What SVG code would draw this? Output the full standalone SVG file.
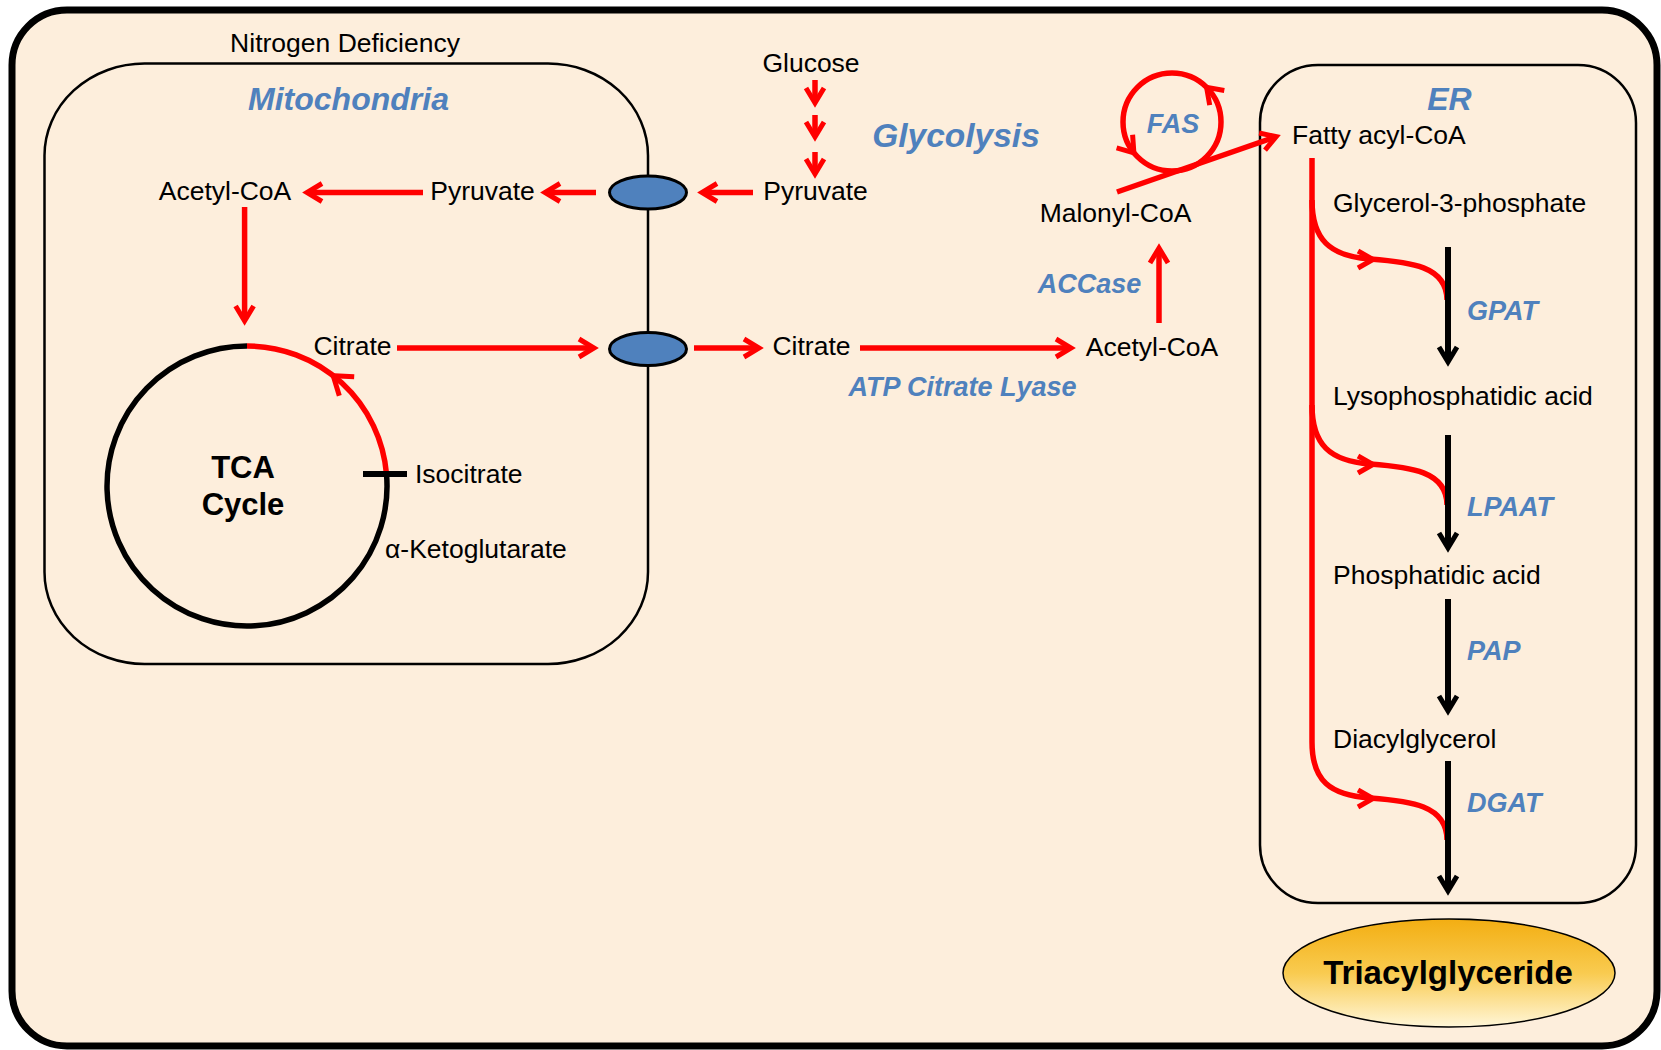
<svg xmlns="http://www.w3.org/2000/svg" width="1661" height="1050" viewBox="0 0 1661 1050">
<style>
text{font-family:"Liberation Sans",Arial,sans-serif;font-size:26.5px;fill:#000}
.enz{font-weight:bold;font-style:italic;fill:#4F81BD;font-size:27px}
.mid{text-anchor:middle}
.box{fill:none;stroke:#000;stroke-width:2.5}
.red{fill:none;stroke:#FF0000;stroke-width:5.5}
.redh{fill:none;stroke:#FF0000;stroke-width:5}
.blk{fill:none;stroke:#000;stroke-width:6}
.trans{fill:#4F81BD;stroke:#000;stroke-width:3}
.tca{font-weight:bold;font-size:31px}
</style>
<defs>
<marker id="ar" markerUnits="userSpaceOnUse" viewBox="-20 -14 34 28" markerWidth="34" markerHeight="28" refX="0" refY="0" orient="auto" overflow="visible">
<path d="M-12,-9 L3,0 L-12,9" fill="none" stroke="#FF0000" stroke-width="5"/>
</marker>
<marker id="ab" markerUnits="userSpaceOnUse" viewBox="-20 -14 34 28" markerWidth="34" markerHeight="28" refX="0" refY="0" orient="auto" overflow="visible">
<path d="M-12,-9 L3,0 L-12,9" fill="none" stroke="#000" stroke-width="5"/>
</marker>
<linearGradient id="gold" x1="0" y1="0" x2="0" y2="1">
<stop offset="0" stop-color="#F3AE12"/>
<stop offset="0.5" stop-color="#F9CB50"/>
<stop offset="1" stop-color="#FFF6D8"/>
</linearGradient>
</defs>

<rect id="cell" x="12" y="10" width="1645" height="1036" rx="55" ry="55" fill="#FDEEDC" stroke="#000" stroke-width="7"/>
<text class="mid" x="345" y="52">Nitrogen Deficiency</text>

<g id="mitochondria">
<rect class="box" x="44.5" y="63.5" width="603.5" height="600.5" rx="100" ry="92"/>
<text class="enz mid" x="348.5" y="110" style="font-size:32px">Mitochondria</text>
</g>

<g id="er">
<rect class="box" x="1260" y="65" width="376" height="838" rx="58" ry="58"/>
<text class="enz mid" x="1449.5" y="110" style="font-size:32px">ER</text>
</g>

<g id="connectors">
<path class="red" marker-end="url(#ar)" d="M423,192.5 L310,192.5"/>
<path class="red" marker-end="url(#ar)" d="M596,192.5 L548,192.5"/>
<path class="red" marker-end="url(#ar)" d="M753,192.5 L705,192.5"/>
<path class="red" marker-end="url(#ar)" d="M244.6,207 L244.6,318"/>
<path class="red" marker-end="url(#ar)" d="M397,348 L591,348"/>
<path class="red" marker-end="url(#ar)" d="M694,348 L756,348"/>
<path class="red" marker-end="url(#ar)" d="M860,348 L1068,348"/>
<path class="red" marker-end="url(#ar)" d="M1159,323 L1159,251"/>
<path class="red" marker-end="url(#ar)" d="M815,80 L815,100"/>
<path class="red" marker-end="url(#ar)" d="M815,115 L815,134"/>
<path class="red" marker-end="url(#ar)" d="M815,152 L815,171"/>
<path class="red" marker-end="url(#ar)" d="M1117,192 L1273.4,137.6"/>
<!-- FAS cycle -->
<circle class="red" cx="1172" cy="122" r="49"/>
<path class="redh" d="M1224.3,90.5 L1206.6,87.4 L1209.7,105.1"/>
<path class="redh" d="M1132.6,134.8 L1133.9,152.8 L1116.6,147.8"/>
<!-- TCA cycle -->
<path fill="none" stroke="#000" stroke-width="5.5" d="M386.5,474 A140,140 0 1 1 247,346"/>
<path class="red" d="M247,346 A140,140 0 0 1 386.5,474"/>
<path class="redh" d="M354.2,376.8 L333.2,375.7 L339.3,395.8"/>
<path class="blk" d="M363,474 L407,474"/>
<!-- ER red feeds -->
<path class="red" d="M1312,158 L1312,742 C1312,781 1330,795 1370,798 C1410,801 1447,805 1447,840"/>
<path class="red" d="M1312,200 C1312,240 1330,256 1370,259 C1410,262 1447,266 1447,300"/>
<path class="red" d="M1312,405 C1312,445 1330,461 1370,464 C1410,467 1447,471 1447,505"/>
<path class="redh" stroke-width="4.5" d="M1358,251 L1373,259.5 L1358,268"/>
<path class="redh" stroke-width="4.5" d="M1358,456 L1373,464.5 L1358,473"/>
<path class="redh" stroke-width="4.5" d="M1358,790 L1373,798.5 L1358,807"/>
<!-- ER black steps -->
<path class="blk" marker-end="url(#ab)" d="M1448,247 L1448,359"/>
<path class="blk" marker-end="url(#ab)" d="M1448,435 L1448,545"/>
<path class="blk" marker-end="url(#ab)" d="M1448,599 L1448,708"/>
<path class="blk" marker-end="url(#ab)" d="M1448,761 L1448,888"/>
</g>

<g id="transporter-pyruvate"><ellipse class="trans" cx="648" cy="192.5" rx="38.5" ry="16.5"/></g>
<g id="transporter-citrate"><ellipse class="trans" cx="648" cy="349" rx="38.5" ry="16.5"/></g>

<g id="n-acetylcoa-mito"><text class="mid" x="225" y="200">Acetyl-CoA</text></g>
<g id="n-pyruvate-mito"><text class="mid" x="482.5" y="200">Pyruvate</text></g>
<g id="n-pyruvate"><text class="mid" x="815.5" y="200">Pyruvate</text></g>
<g id="n-glucose"><text class="mid" x="811" y="72">Glucose</text></g>
<g id="l-glycolysis"><text class="enz mid" x="956" y="147" style="font-size:33.5px">Glycolysis</text></g>
<g id="n-citrate-mito"><text class="mid" x="352.5" y="355">Citrate</text></g>
<g id="n-isocitrate"><text x="415" y="483">Isocitrate</text></g>
<g id="n-akg"><text x="385" y="558">α-Ketoglutarate</text></g>
<g id="n-tca">
<text class="mid tca" x="243" y="478">TCA</text>
<text class="mid tca" x="243" y="515">Cycle</text>
</g>
<g id="n-citrate"><text class="mid" x="811.5" y="355">Citrate</text></g>
<g id="l-acl"><text class="enz mid" x="962.5" y="396">ATP Citrate Lyase</text></g>
<g id="n-acetylcoa"><text class="mid" x="1152" y="356">Acetyl-CoA</text></g>
<g id="l-accase"><text class="enz mid" x="1089.5" y="293">ACCase</text></g>
<g id="n-malonylcoa"><text class="mid" x="1115.5" y="222">Malonyl-CoA</text></g>
<g id="l-fas"><text class="enz mid" x="1173" y="133">FAS</text></g>
<g id="n-fattyacylcoa"><text x="1292" y="144">Fatty acyl-CoA</text></g>
<g id="n-g3p"><text x="1333" y="212">Glycerol-3-phosphate</text></g>
<g id="l-gpat"><text class="enz" x="1467" y="320">GPAT</text></g>
<g id="n-lpa"><text x="1333" y="405">Lysophosphatidic acid</text></g>
<g id="l-lpaat"><text class="enz" x="1467" y="516">LPAAT</text></g>
<g id="n-pa"><text x="1333" y="584">Phosphatidic acid</text></g>
<g id="l-pap"><text class="enz" x="1467" y="660">PAP</text></g>
<g id="n-dag"><text x="1333" y="748">Diacylglycerol</text></g>
<g id="l-dgat"><text class="enz" x="1467" y="812">DGAT</text></g>
<g id="n-tag">
<ellipse cx="1449" cy="973" rx="166" ry="54" fill="url(#gold)" stroke="#000" stroke-width="1.5"/>
<text class="mid" x="1448" y="984" style="font-weight:bold;font-size:33px">Triacylglyceride</text>
</g>
</svg>
